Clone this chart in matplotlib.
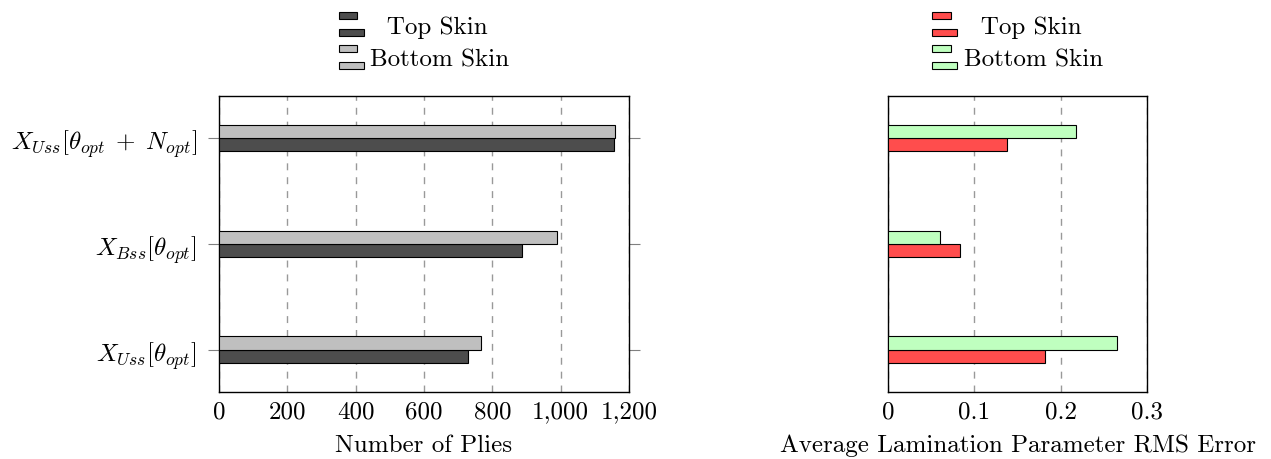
import numpy as np
import matplotlib
matplotlib.use("Agg")
import matplotlib.pyplot as plt
from matplotlib.patches import Rectangle
from matplotlib.legend_handler import HandlerBase

plt.rcParams['font.family'] = 'serif'
plt.rcParams['font.serif'] = ['cmr10', 'DejaVu Serif']
plt.rcParams['mathtext.fontset'] = 'cm'
plt.rcParams['axes.formatter.use_mathtext'] = True
plt.rcParams['font.size'] = 18

# data (bottom to top)
cases = [r'$X_{Uss}[\theta_{opt}]$', r'$X_{Bss}[\theta_{opt}]$',
         r'$X_{Uss}[\theta_{opt}\;+\;N_{opt}]$']
plies_top = [728, 886, 1155]
plies_bottom = [767, 988, 1158]
rms_top = [0.182, 0.083, 0.1375]
rms_bottom = [0.265, 0.060, 0.218]
plies_ticks = [0, 200, 400, 600, 800, 1000, 1200]
plies_ticklabels = ['0', '200', '400', '600', '800', '1,000', '1,200']
rms_ticks = [0, 0.1, 0.2, 0.3]
rms_ticklabels = ['0', '0.1', '0.2', '0.3']


class HandlerDoubleBar(HandlerBase):
    # pgfplots-style bar legend: short bar above, longer bar below
    def create_artists(self, legend, orig_handle, xdescent, ydescent,
                       width, height, fontsize, trans):
        fc = orig_handle.get_facecolor()
        bh = height * 0.32
        r1 = Rectangle((-xdescent, -ydescent + height * 0.72), width * 0.74, bh,
                       facecolor=fc, edgecolor='black', lw=0.8, transform=trans)
        r2 = Rectangle((-xdescent, -ydescent - height * 0.04), width, bh,
                       facecolor=fc, edgecolor='black', lw=0.8, transform=trans)
        return [r1, r2]


fig = plt.figure(figsize=(12.71, 4.6), dpi=100)
ax1 = fig.add_axes([0.1723, 0.1457, 0.3226, 0.6435])
ax2 = fig.add_axes([0.6987, 0.1457, 0.2038, 0.6435])

y = np.arange(len(cases))
h = 0.125


def draw(ax, top, bottom, c_top, c_bottom, xlim, ticks, ticklabels, xlabel):
    bt = ax.barh(y - h / 2, top, height=h, color=c_top, edgecolor='black', lw=0.8,
                 label='Top Skin', zorder=3)
    bb = ax.barh(y + h / 2, bottom, height=h, color=c_bottom, edgecolor='black', lw=0.8,
                 label='Bottom Skin', zorder=3)
    ax.set_xlim(*xlim)
    ax.set_ylim(-0.4, 2.4)
    ax.set_xticks(ticks)
    ax.set_xticklabels(ticklabels)
    ax.tick_params(axis='x', length=0, pad=6)
    ax.grid(axis='x', color='#999999', ls=(0, (5, 5)), lw=1, zorder=0)
    ax.set_xlabel(xlabel, labelpad=8)
    for s in ax.spines.values():
        s.set_linewidth(1.0)
    leg = ax.legend([bt.patches[0], bb.patches[0]], ['  Top Skin', 'Bottom Skin'],
                    handler_map={matplotlib.patches.Rectangle: HandlerDoubleBar()},
                    loc='lower center', bbox_to_anchor=(0.5, 1.045), frameon=False,
                    handlelength=1.0, handleheight=1.0, handletextpad=0.25,
                    labelspacing=0.3, borderpad=0)
    return leg


draw(ax1, plies_top, plies_bottom, '#4d4d4d', '#bfbfbf', (0, 1200),
     plies_ticks, plies_ticklabels, 'Number of Plies')
ax1.set_yticks(y)
ax1.set_yticklabels(cases)
ax1.tick_params(axis='y', direction='out', length=8, color='#808080',
                left=True, right=True, pad=8)

draw(ax2, rms_top, rms_bottom, '#ff4d4d', '#bfffbf', (0, 0.3),
     rms_ticks, rms_ticklabels, 'Average Lamination Parameter RMS Error')
ax2.set_yticks([])

fig.savefig('out.png', dpi=100)
